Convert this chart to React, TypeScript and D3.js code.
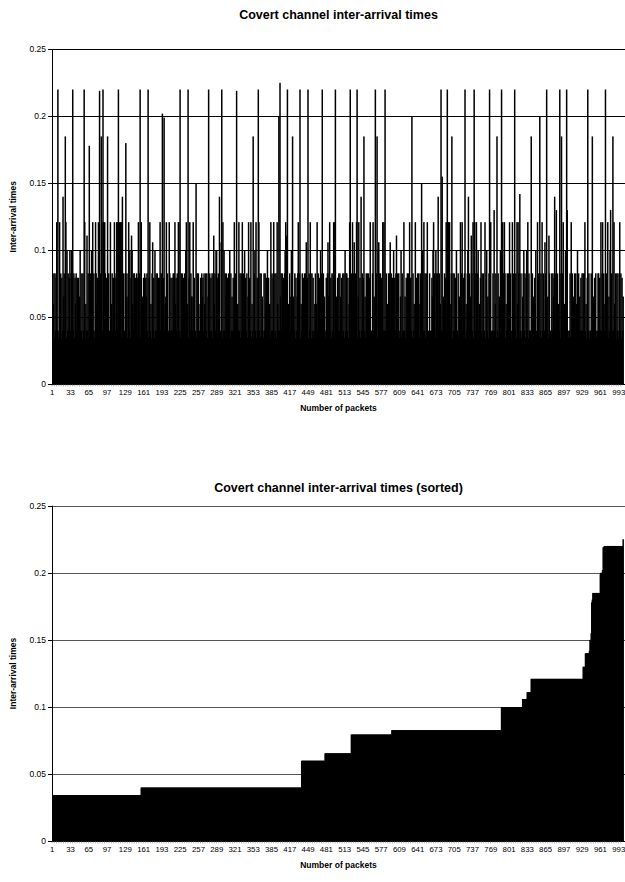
import React from 'react';
import * as d3 from 'd3';

// level codes used in the packet sequence
const levelCodes = ['a', 'b', 'c', 'd', 'e', 'E', 'f', 'o', 'p', 'g'];
const levelValues = [0.0345, 0.04, 0.06, 0.0655, 0.0795, 0.0828, 0.1, 0.106, 0.111, 0.121];

// packet-by-packet levels, 50 packets per row
const packetRows = [
  'bcEaEbegbeabgbEaebedEbegafbEbefbEfbebEaecEbeaebdfb',
  'bEaEbegacbpbEaebEdfbgbEabgEcebgaebEegbegbgEbedeaEb',
  'agbcEbebgebEgbgeagbgagebEabEedEadgbfaepfcbEEbebEae',
  'gbEeagbdaebEbedEbeaegbcaEobeafbEbEaebegbEbeaeebcdg',
  'bEabgEbebebEaEgcebEaggbeaEbEbeaEbfgbceaegbEddbgaeb',
  'beaEbEabcebEdebEcaEbEadebEbebEaEpcEbffeaEbeaboeagb',
  'fbEaEbebEbfaEbdbebgaEbeacbgbEaEbgaEbfdebEadgbebgac',
  'beaEfbgaebegbEaEbdbaEbEcebfaebcagbEbegaEbEagcbebed',
  'EbEaebEfgpaebcbEbdfbeadbEaebdEgbEeacbEbebEaEobeeaE',
  'bgEaEbeabcEacgbEbebfbEeaEbdbaebEodEgbeaEbEgagebdae',
  'bEbEdbeaEbEafbEEbeacgebEagbEobEbgeadgbeaebEaeebdaE',
  'bEaEbegabbEgbdbebEeafoEaEbecgbgbebEacbEdEobEaebfae',
  'bEpaEbEabdfaEbbgbdaebEaEbgbebeaEbcagbebEbEacEbeafb',
  'gbEaEbgabbEabbedfgbEafEbEebEbcebebdbEaegbeggagcbEe',
  'aEbEbebfbbEadbgbEgbebEeacbEfebEadpEbgaegbEgaEfbcae',
  'gbEaEbbgaEfbdaEebgabbEbebcEaebEadbfaebgEbgEacbEaEb',
  'gbEabgbEaebEagcgEaebEabdEfbEaefbgaEbbbebEadbecfbag',
  'bEaebEagbEaboEaebdapEbbaEbEdeebEebEbcbeaEebEgacbfa',
  'eebabbEagbEadbEaEcbfaEbdbebEbEaEgbcaeebEabbEaebdae',
  'bEabbEEaebgbEgaEbceaEbgadbfeaEbebgcbEaEbEabgbEaebd',
];

// tall spikes: packet number and inter-arrival time
const spikeIdx = [10, 19, 23, 36, 56, 65, 83, 86, 89, 97, 116, 123, 129, 154, 168, 193, 196, 224, 238, 252, 274, 293, 297, 323, 352, 361, 397, 399, 412, 421, 434, 448, 473, 496, 522, 534, 541, 546, 566, 569, 583, 630, 647, 676, 681, 683, 692, 700, 723, 729, 739, 766, 774, 779, 787, 810, 819, 839, 854, 866, 880, 883, 889, 892, 901, 902, 938, 946, 969, 978, 982];
const spikeVal = [0.22, 0.14, 0.185, 0.22, 0.22, 0.178, 0.219, 0.185, 0.22, 0.185, 0.22, 0.14, 0.18, 0.22, 0.22, 0.202, 0.199, 0.22, 0.22, 0.15, 0.22, 0.14, 0.22, 0.219, 0.185, 0.22, 0.2, 0.225, 0.22, 0.185, 0.22, 0.22, 0.22, 0.22, 0.22, 0.22, 0.14, 0.185, 0.22, 0.185, 0.22, 0.2, 0.15, 0.14, 0.22, 0.155, 0.22, 0.185, 0.22, 0.14, 0.22, 0.22, 0.13, 0.185, 0.22, 0.22, 0.142, 0.185, 0.2, 0.22, 0.14, 0.13, 0.22, 0.185, 0.22, 0.13, 0.22, 0.185, 0.22, 0.13, 0.185];

const yTicks = [0, 0.05, 0.1, 0.15, 0.2, 0.25];
const yTickLabels = ['0', '0.05', '0.1', '0.15', '0.2', '0.25'];
const xTickLabels = [1, 33, 65, 97, 129, 161, 193, 225, 257, 289, 321, 353, 385, 417, 449, 481, 513, 545, 577, 609, 641, 673, 705, 737, 769, 801, 833, 865, 897, 929, 961, 993];

const titles = ['Covert channel inter-arrival times', 'Covert channel inter-arrival times (sorted)'];
const xTitle = 'Number of packets';
const yTitle = 'Inter-arrival times';

const packets: number[] = packetRows.join('').split('').map((c) => levelValues[levelCodes.indexOf(c)]);
spikeIdx.forEach((p, k) => { packets[p - 1] = spikeVal[k]; });
const sortedPackets = [...packets].sort((a, b) => a - b);

const FONT = '"Liberation Sans", Arial, Helvetica, sans-serif';
const W = 625;
const H = 882;
const LEFT = 52;
const RIGHT = 623;

type PanelProps = {
  values: number[];
  title: string;
  titleY: number;
  yBottom: number;
  yTop: number;
  gridColor: string;
};

function Panel({ values, title, titleY, yBottom, yTop, gridColor }: PanelProps) {
  const x = d3.scaleBand<number>().domain(d3.range(1, values.length + 1)).range([LEFT, RIGHT]).padding(0);
  const y = d3.scaleLinear().domain([0, 0.25]).range([yBottom, yTop]);
  const bw = Math.max(x.bandwidth(), 1.5);
  const cx = (LEFT + RIGHT) / 2 + 1;
  const midY = (yTop + yBottom) / 2;
  const minorTicks = d3.range(1, values.length + 1, 4);
  return (
    <g>
      <text x={cx} y={titleY} textAnchor="middle" fontFamily={FONT} fontWeight="bold" fontSize={12.5} fill="#000">{title}</text>
      {yTicks.map((t) => (
        <line key={'g' + t} x1={LEFT} x2={W} y1={Math.round(y(t)) + 0.5} y2={Math.round(y(t)) + 0.5} stroke={gridColor} strokeWidth={1} />
      ))}
      <g fill="#000">
        {values.map((v, i) => (
          <rect key={i} x={x(i + 1)} y={y(v)} width={bw} height={yBottom - y(v)} />
        ))}
      </g>
      <line x1={LEFT + 0.5} x2={LEFT + 0.5} y1={yTop} y2={yBottom} stroke="#000" strokeWidth={1} />
      <line x1={LEFT} x2={W} y1={Math.round(yBottom) + 0.5} y2={Math.round(yBottom) + 0.5} stroke="#000" strokeWidth={1} />
      <g stroke="#777" strokeWidth={0.6}>
        {minorTicks.map((k) => (
          <line key={'m' + k} x1={x(k)} x2={x(k)} y1={yBottom} y2={yBottom + 2} />
        ))}
      </g>
      {yTicks.map((t, k) => (
        <g key={'t' + t}>
          <line x1={LEFT - 4} x2={LEFT} y1={Math.round(y(t)) + 0.5} y2={Math.round(y(t)) + 0.5} stroke="#000" />
          <text x={LEFT - 6} y={y(t)} dy="0.35em" textAnchor="end" fontFamily={FONT} fontSize={8.5} fill="#000">{yTickLabels[k]}</text>
        </g>
      ))}
      {xTickLabels.map((l) => (
        <text key={'x' + l} x={(x(l) as number) + x.bandwidth() / 2} y={yBottom + 11} textAnchor="middle" fontFamily={FONT} fontSize={7.8} fill="#000">{l}</text>
      ))}
      <text x={cx} y={yBottom + 27} textAnchor="middle" fontFamily={FONT} fontWeight="bold" fontSize={8.5} fill="#000">{xTitle}</text>
      <text transform={`translate(${16},${midY}) rotate(-90)`} textAnchor="middle" fontFamily={FONT} fontWeight="bold" fontSize={8.5} fill="#000">{yTitle}</text>
    </g>
  );
}

export default function App() {
  return (
    <svg width={W} height={H} viewBox={`0 0 ${W} ${H}`} style={{ position: 'absolute', left: 0, top: 0, background: '#fff' }}>
      <rect x={0} y={0} width={W} height={H} fill="#fff" />
      <Panel values={packets} title={titles[0]} titleY={19} yBottom={384.3} yTop={49.3} gridColor="#000" />
      <Panel values={sortedPackets} title={titles[1]} titleY={491.5} yBottom={841.3} yTop={505.7} gridColor="#555" />
    </svg>
  );
}
